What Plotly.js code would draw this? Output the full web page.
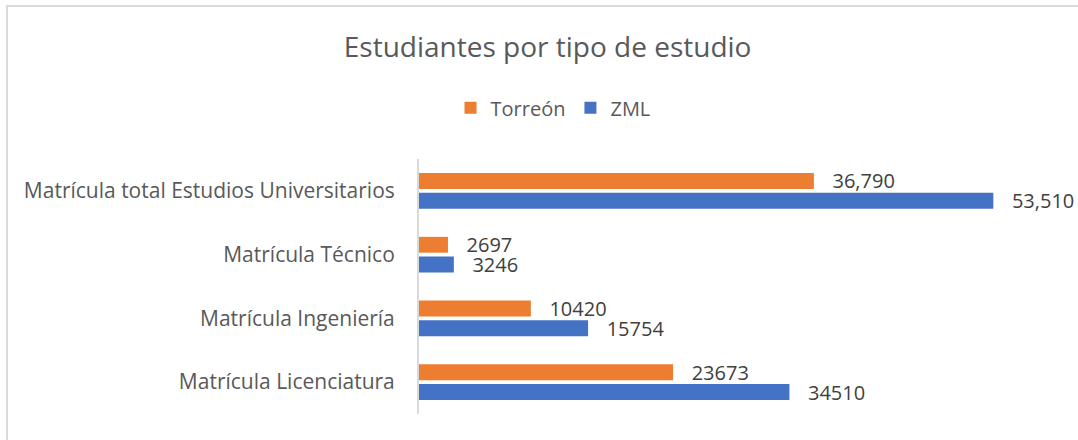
<!DOCTYPE html>
<html>
<head>
<meta charset="utf-8">
<script src="https://cdn.plot.ly/plotly-3.0.1.min.js"></script>
<style>
  body { margin: 0; background: #fff; }
  #wrap { position: relative; width: 1078px; height: 440px; }
  #myDiv { width: 1078px; height: 440px; }
  #frame { position: absolute; left: 6px; top: 5px; right: -10px; bottom: -10px;
           border: 2px solid #d9d9d9; pointer-events: none; }
</style>
</head>
<body>
<div id="wrap">
  <div id="myDiv"></div>
  <div id="frame"></div>
</div>
<script>
// categories bottom -> top
var categories = ['Matrícula Licenciatura', 'Matrícula Ingeniería', 'Matrícula Técnico',
                  'Matrícula total Estudios Universitarios'];
var torreon = [23673, 10420, 2697, 36790];
var zml = [34510, 15754, 3246, 53510];
var torreonLabels = ['23673', '10420', '2697', '36,790'];
var zmlLabels = ['34510', '15754', '3246', '53,510'];

function pad(list) {
  return list.map(s => '   ' + s);
}

var font = '"Open Sans", Lato, sans-serif';

var trace1 = {
  type: 'bar',
  orientation: 'h',
  name: 'ZML',
  y: categories,
  x: zml,
  text: pad(zmlLabels),
  textposition: 'outside',
  constraintext: 'none',
  cliponaxis: false,
  textfont: {family: font, size: 20, color: '#404040'},
  marker: {color: '#4472C4'},
  hoverinfo: 'x'
};

var trace2 = {
  type: 'bar',
  orientation: 'h',
  name: 'Torreón',
  y: categories,
  x: torreon,
  text: pad(torreonLabels),
  textposition: 'outside',
  constraintext: 'none',
  cliponaxis: false,
  textfont: {family: font, size: 20, color: '#404040'},
  marker: {color: '#ED7D31'},
  hoverinfo: 'x'
};

var layout = {
  width: 1078,
  height: 440,
  margin: {l: 419, r: 15, t: 159, b: 26},
  paper_bgcolor: '#fff',
  plot_bgcolor: '#fff',
  font: {family: font, color: '#595959'},
  title: {
    text: 'Estudiantes por tipo de estudio',
    font: {family: font, size: 28, color: '#595959'},
    x: 0.508, xref: 'container', xanchor: 'center',
    y: 0.893, yref: 'container', yanchor: 'middle'
  },
  showlegend: true,
  legend: {
    orientation: 'h',
    traceorder: 'reversed',
    x: 0.513, xref: 'container', xanchor: 'center',
    y: 0.755, yref: 'container', yanchor: 'middle',
    font: {family: font, size: 20, color: '#595959'},
    itemwidth: 30
  },
  barmode: 'group',
  bargap: 0.38,
  bargroupgap: 0.2,
  xaxis: {
    range: [0, 60000],
    showgrid: false,
    zeroline: false,
    showticklabels: false,
    showline: false,
    fixedrange: true
  },
  yaxis: {
    showgrid: false,
    zeroline: false,
    showline: true,
    linecolor: '#d9d9d9',
    linewidth: 2,
    ticks: '',
    ticklabelstandoff: 18,
    tickfont: {family: font, size: 21, color: '#595959'},
    fixedrange: true
  }
};

Plotly.newPlot('myDiv', [trace1, trace2], layout, {displayModeBar: false, staticPlot: true});
</script>
</body>
</html>
